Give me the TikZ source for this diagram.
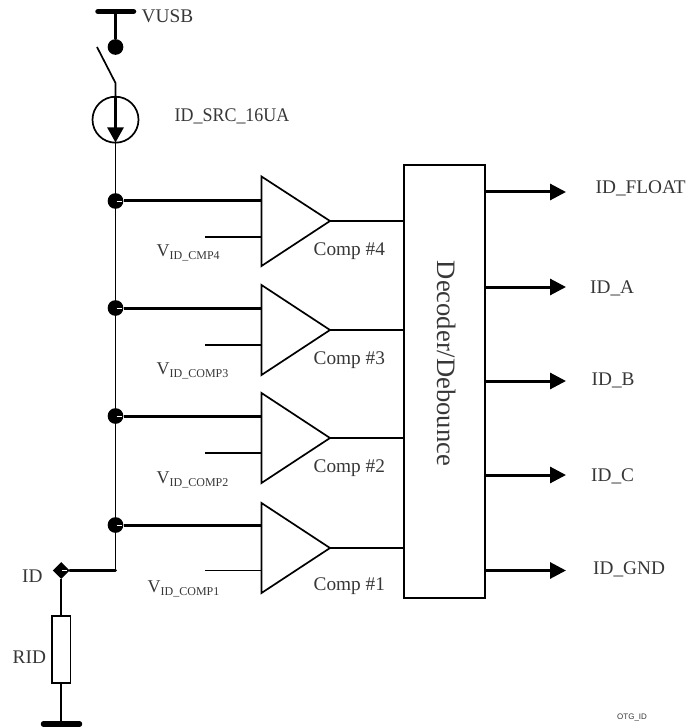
\documentclass[tikz,border=0pt]{standalone}
\usepackage{fontspec}
\setmainfont{Liberation Serif}
\newfontfamily\smallsans{Liberation Sans}
\usetikzlibrary{arrows.meta,calc,shapes.geometric}
\definecolor{txt}{RGB}{55,55,55}
\tikzset{
  wire/.style={line width=1.7pt,black},
  bus/.style={line width=3pt,black},
  rail/.style={line width=5.5pt,black,line cap=round},
  dotnode/.style={circle,fill=black,minimum size=15.7pt,inner sep=0pt},
  pin/.style={diamond,aspect=1,fill=black,minimum size=17pt,inner sep=0pt},
  comp/.style={wire,line join=miter,fill=white},
  lab/.style={text=txt,font=\fontsize{19.3}{19.3}\selectfont,inner sep=0pt,anchor=base west},
  vlab/.style={text=txt,font=\fontsize{18}{18}\selectfont,inner sep=0pt,anchor=base west},
  outarrow/.style={bus,-{Triangle[length=16pt,width=16pt]}},
  glint/.style={white,line width=0.9pt},
}
\newcommand{\vlabel}[1]{V{\fontsize{12}{12}\selectfont\raisebox{-3.2pt}{#1}}}
\begin{document}
\begin{tikzpicture}[x=1pt,y=-1pt]
\useasboundingbox (0,0) rectangle (690,727);
% supply
\coordinate (railL) at (98,11.5); \coordinate (railR) at (133.5,11.5); \coordinate (railM) at (115.5,11.5);
\node[dotnode] (swA) at (115.5,47) {};
\coordinate (swF) at (97,47);
\coordinate (swB) at (115.5,83);
\node[circle,draw=black,line width=1.7pt,minimum size=46pt,inner sep=0pt] (src) at (115.5,119.7) {};
\coordinate (srcIn) at (115.5,97);
\coordinate (srcTip) at (115.5,142.5);
\draw[rail] (railL) -- (railR);
\draw[line width=2.6pt] (railM) -- (swA);
\draw[wire] (swF) -- (swB) -- (srcIn);
\draw[line width=2.6pt,-{Triangle[length=15pt,width=16pt]}] (srcIn) -- (srcTip);
% nodes on the vertical
\node[dotnode] (n4) at (115.5,201) {};
\node[dotnode] (n3) at (115.5,308) {};
\node[dotnode] (n2) at (115.5,416) {};
\node[dotnode] (n1) at (115.5,525) {};
\coordinate (corner) at (115.5,570.5);
\node[pin] (idp) at (61.2,570.5) {};
\draw[wire] (srcTip) -- (n4) -- (n3) -- (n2) -- (n1) -- (corner);
\draw[bus,line cap=round] (corner) -- (idp);
% resistor
\node[draw=black,line width=1.7pt,fill=white,minimum width=18.5pt,minimum height=67pt,inner sep=0pt] (rid) at (61.2,649.5) {};
\coordinate (gnd) at (61.2,724);
\coordinate (gndL) at (43.5,724); \coordinate (gndR) at (79.5,724);
\draw[wire] (idp) -- (rid);
\draw[wire] (rid) -- (gnd);
\draw[rail] (gndL) -- (gndR);
% decoder
\node[draw=black,line width=1.7pt,minimum width=81pt,minimum height=433pt,inner sep=0pt] (dec) at (444.5,381.5) {};
\node[rotate=-90,text=txt,font=\fontsize{26.6}{26.6}\selectfont,inner sep=0pt] (dectxt) at (447,363.5) {Decoder/Debounce};
% comparators
\foreach \n/\t/\m/\b/\v in {4/176.5/221/266/237, 3/285/330/375/345, 2/393/438/483/453, 1/503/548/593/570.5}{
  \coordinate (t\n) at (261.5,\t); \coordinate (b\n) at (261.5,\b); \coordinate (o\n) at (330,\m);
  \coordinate (v\n) at (205,\v); \coordinate (vi\n) at (261.5,\v);
  \coordinate (di\n) at (dec.west |- o\n);
  \draw[comp] (t\n) -- (o\n) -- (b\n) -- cycle;
  \draw[wire] (o\n) -- (di\n);
  \draw[wire] (v\n) -- (vi\n);
  \draw[bus] (n\n) -- (n\n -| t\n);
  \draw[glint] ($(n\n)+(1,0)$) -- +(5,0);
}
\draw[glint] ($(idp)+(1,0)$) -- +(5,0);
% outputs
\foreach \i/\y in {a/192,b/287,c/381,d/475,e/570.5}{
  \coordinate (q\i) at (dec.east |- 0,\y);
  \coordinate (r\i) at (566,\y);
  \draw[outarrow] (q\i) -- (r\i);
}
% labels
\node[lab] (l1) at (141.5,23) {VUSB};
\node[lab,xscale=0.93,anchor=base west] (l2) at (174.5,122) {ID\_SRC\_16UA};
\node[lab] (l3) at (595.5,193.5) {ID\_FLOAT};
\node[lab] (l4) at (590,293.5) {ID\_A};
\node[lab] (l5) at (591.5,385) {ID\_B};
\node[lab] (l6) at (591,481) {ID\_C};
\node[lab] (l7) at (593,574) {ID\_GND};
\node[lab] (l8) at (313.5,255) {Comp \#4};
\node[lab] (l9) at (313.5,364) {Comp \#3};
\node[lab] (l10) at (313.5,472) {Comp \#2};
\node[lab] (l11) at (313.5,590) {Comp \#1};
\node[lab] (l12) at (22,582) {ID};
\node[lab] (l13) at (12.5,663.5) {RID};
\node[vlab] (v14) at (156.5,256) {\vlabel{ID\_CMP4}};
\node[vlab] (v13) at (156.5,374) {\vlabel{ID\_COMP3}};
\node[vlab] (v12) at (156.5,483) {\vlabel{ID\_COMP2}};
\node[vlab] (v11) at (147.5,592) {\vlabel{ID\_COMP1}};
\node[text=txt,font=\smallsans\fontsize{8}{8}\selectfont,inner sep=0pt,anchor=base west] (otg) at (617,719) {OTG\_ID};
\end{tikzpicture}
\end{document}
